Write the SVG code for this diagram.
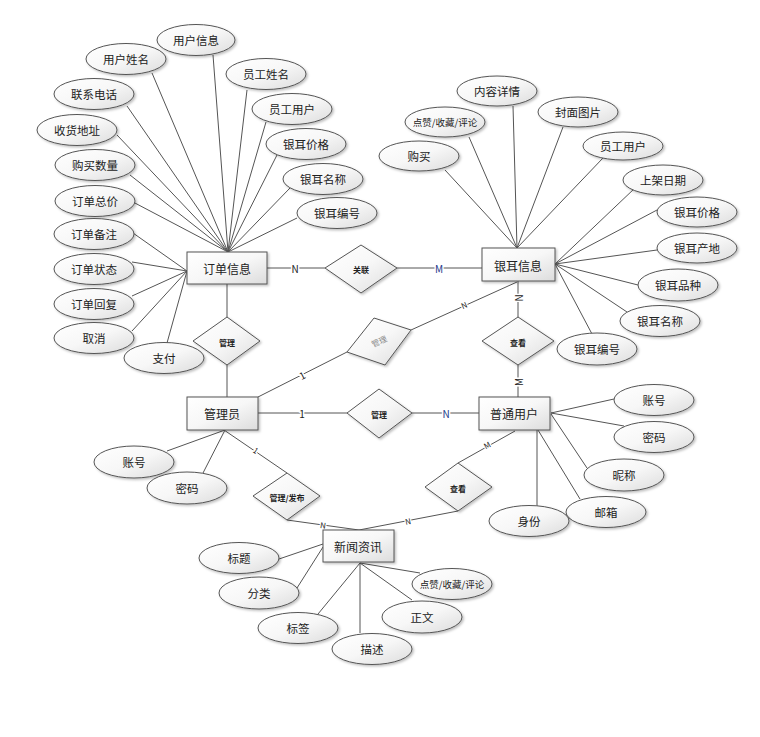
<svg xmlns="http://www.w3.org/2000/svg" width="760" height="737" viewBox="0 0 760 737">
<defs>
<linearGradient id="g" x1="0" y1="0" x2="1" y2="1"><stop offset="0" stop-color="#ffffff"/><stop offset="0.5" stop-color="#f7f7f7"/><stop offset="1" stop-color="#dcdcdc"/></linearGradient>
<filter id="sh" x="-20%" y="-20%" width="150%" height="160%"><feDropShadow dx="1.5" dy="1.5" stdDeviation="1.2" flood-color="#000" flood-opacity="0.25"/></filter>
<style>
text{font-family:"Noto Sans CJK SC","Noto Sans",sans-serif;text-anchor:middle;dominant-baseline:central;fill:#222}
.e ellipse{fill:url(#g);stroke:#555;stroke-width:1;filter:url(#sh)}
.e text{font-size:11.5px}
.r rect{fill:url(#g);stroke:#555;stroke-width:1;filter:url(#sh)}
.r text{font-size:12px}
.d polygon{fill:url(#g);stroke:#555;stroke-width:1;filter:url(#sh)}
.d text{font-size:8px;font-weight:bold}
#connectors line{stroke:#555;stroke-width:1}
.c{font-size:10px;stroke:#fff;stroke-width:3;paint-order:stroke}
.cs{font-size:8px;stroke:#fff;stroke-width:2.5;paint-order:stroke}
.b{fill:#1c3a8a}
.sm text{font-size:9.5px}
</style>
</defs>
<rect width="760" height="737" fill="#fff"/>

<g id="connectors">
<!-- 订单信息 attributes -->
<line x1="213" y1="55" x2="228" y2="252"/>
<line x1="152" y1="73" x2="228" y2="252"/>
<line x1="247" y1="90" x2="228" y2="252"/>
<line x1="127" y1="106" x2="228" y2="252"/>
<line x1="266" y1="122" x2="228" y2="252"/>
<line x1="117" y1="135" x2="228" y2="252"/>
<line x1="277" y1="155" x2="228" y2="252"/>
<line x1="130" y1="175" x2="228" y2="252"/>
<line x1="290" y1="188" x2="228" y2="252"/>
<line x1="133" y1="202" x2="228" y2="252"/>
<line x1="297" y1="218" x2="228" y2="252"/>
<line x1="133" y1="233" x2="187" y2="271"/>
<line x1="132" y1="262" x2="187" y2="271"/>
<line x1="132" y1="296" x2="187" y2="271"/>
<line x1="132" y1="331" x2="187" y2="271"/>
<line x1="167" y1="343" x2="187" y2="271"/>
<!-- 银耳信息 attributes -->
<line x1="513" y1="106" x2="517" y2="248"/>
<line x1="469" y1="137" x2="517" y2="248"/>
<line x1="445" y1="170" x2="517" y2="248"/>
<line x1="563" y1="127" x2="517" y2="248"/>
<line x1="603" y1="158" x2="517" y2="248"/>
<line x1="635" y1="188" x2="555" y2="264"/>
<line x1="657" y1="210" x2="555" y2="264"/>
<line x1="657" y1="250" x2="555" y2="264"/>
<line x1="638" y1="285" x2="555" y2="264"/>
<line x1="627" y1="312" x2="555" y2="264"/>
<line x1="592" y1="334" x2="555" y2="264"/>
<!-- 管理员 attributes -->
<line x1="167" y1="451" x2="225" y2="430"/>
<line x1="203" y1="473" x2="225" y2="430"/>
<!-- 普通用户 attributes -->
<line x1="614" y1="399" x2="551" y2="413"/>
<line x1="624" y1="426" x2="551" y2="413"/>
<line x1="587" y1="468" x2="551" y2="414"/>
<line x1="580" y1="499" x2="538" y2="430"/>
<line x1="537" y1="506" x2="537" y2="430"/>
<!-- 新闻资讯 attributes -->
<line x1="279" y1="559" x2="323" y2="544"/>
<line x1="297" y1="588" x2="323" y2="547"/>
<line x1="318" y1="614" x2="360" y2="563"/>
<line x1="360" y1="633" x2="360" y2="563"/>
<line x1="412" y1="600" x2="360" y2="563"/>
<line x1="420" y1="573" x2="360" y2="563"/>
<!-- relationships -->
<line x1="267" y1="268" x2="325" y2="268"/>
<line x1="397" y1="268" x2="482" y2="268"/>
<line x1="227" y1="284" x2="227" y2="317"/>
<line x1="227" y1="365" x2="227" y2="397"/>
<line x1="518" y1="281" x2="518" y2="317"/>
<line x1="518" y1="365" x2="518" y2="397"/>
<line x1="258" y1="397" x2="347" y2="352"/>
<line x1="411" y1="330" x2="517" y2="282"/>
<line x1="258" y1="413" x2="347" y2="413"/>
<line x1="412" y1="413" x2="479" y2="413"/>
<line x1="224" y1="430" x2="287" y2="473"/>
<line x1="287" y1="520" x2="359" y2="530"/>
<line x1="458" y1="511" x2="359" y2="530"/>
<line x1="458" y1="463" x2="515" y2="431"/>
<!-- cardinalities -->
<text class="c" x="295" y="268">N</text>
<text class="c b" x="439" y="268">M</text>
<text class="c" transform="translate(518,298) rotate(-90)">N</text>
<text class="c" transform="translate(518,382) rotate(-90)">M</text>
<text class="c" transform="translate(302,375) rotate(-27)">1</text>
<text class="cs" transform="translate(464,305) rotate(-24)">N</text>
<text class="c" x="302" y="413">1</text>
<text class="c b" x="446" y="413">N</text>
<text class="cs" transform="translate(256,450) rotate(34)">1</text>
<text class="cs" transform="translate(323,525) rotate(8)">N</text>
<text class="cs" transform="translate(408,521) rotate(-11)">N</text>
<text class="cs" transform="translate(487,445) rotate(-28)">M</text>
</g>

<!-- entities -->
<g id="dingdan" class="r"><rect x="187" y="252" width="80" height="32"/><text x="227" y="268">订单信息</text></g>
<g id="yiner" class="r"><rect x="482" y="248" width="73" height="33"/><text x="518" y="265">银耳信息</text></g>
<g id="guanliyuan" class="r"><rect x="187" y="397" width="71" height="33"/><text x="222" y="413">管理员</text></g>
<g id="putong" class="r"><rect x="479" y="397" width="71" height="33"/><text x="514" y="413">普通用户</text></g>
<g id="xinwen" class="r"><rect x="323" y="530" width="71" height="32"/><text x="358" y="546">新闻资讯</text></g>

<!-- relationships -->
<g id="rel-guanlian" class="d"><polygon points="325,268 361,245 397,268 361,293"/><text x="361" y="269">关联</text></g>
<g id="rel-guanli1" class="d"><polygon points="193,341 227,317 260,341 227,365"/><text x="227" y="342">管理</text></g>
<g id="rel-chakan1" class="d"><polygon points="482,341 518,317 554,341 518,365"/><text x="518" y="342">查看</text></g>
<g id="rel-guanli2" class="d"><polygon points="374,318 411,330 385,365 347,352"/><text transform="translate(379,341) rotate(-25)" style="fill:#888;font-weight:normal">管理</text></g>
<g id="rel-guanli3" class="d"><polygon points="347,413 379,389 412,413 379,438"/><text x="379" y="414">管理</text></g>
<g id="rel-fabu" class="d"><polygon points="253,496 287,473 320,496 287,520"/><text x="287" y="497">管理/发布</text></g>
<g id="rel-chakan2" class="d"><polygon points="425,487 458,463 492,487 458,511"/><text x="458" y="488">查看</text></g>

<!-- 订单信息 attributes -->
<g id="a-yhxx" class="e"><ellipse cx="196" cy="40" rx="39" ry="15.5"/><text x="196" y="40">用户信息</text></g>
<g id="a-yhxm" class="e"><ellipse cx="126" cy="59" rx="40" ry="15.5"/><text x="126" y="59">用户姓名</text></g>
<g id="a-ygxm" class="e"><ellipse cx="266" cy="74" rx="40" ry="15.5"/><text x="266" y="74">员工姓名</text></g>
<g id="a-lxdh" class="e"><ellipse cx="94" cy="94" rx="40" ry="15.5"/><text x="94" y="94">联系电话</text></g>
<g id="a-ygyh" class="e"><ellipse cx="292" cy="109" rx="40" ry="15.5"/><text x="292" y="109">员工用户</text></g>
<g id="a-shdz" class="e"><ellipse cx="77" cy="130" rx="40" ry="15.5"/><text x="77" y="130">收货地址</text></g>
<g id="a-yejg" class="e"><ellipse cx="306" cy="144" rx="40" ry="15.5"/><text x="306" y="144">银耳价格</text></g>
<g id="a-gmsl" class="e"><ellipse cx="95" cy="165" rx="40" ry="15.5"/><text x="95" y="165">购买数量</text></g>
<g id="a-yemc" class="e"><ellipse cx="323" cy="179" rx="40" ry="15.5"/><text x="323" y="179">银耳名称</text></g>
<g id="a-ddzj" class="e"><ellipse cx="95" cy="201" rx="40" ry="15.5"/><text x="95" y="201">订单总价</text></g>
<g id="a-yebh" class="e"><ellipse cx="337" cy="213" rx="40" ry="15.5"/><text x="337" y="213">银耳编号</text></g>
<g id="a-ddbz" class="e"><ellipse cx="94" cy="234" rx="40" ry="15.5"/><text x="94" y="234">订单备注</text></g>
<g id="a-ddzt" class="e"><ellipse cx="94" cy="269" rx="40" ry="15.5"/><text x="94" y="269">订单状态</text></g>
<g id="a-ddhf" class="e"><ellipse cx="94" cy="304" rx="40" ry="15.5"/><text x="94" y="304">订单回复</text></g>
<g id="a-qx" class="e"><ellipse cx="94" cy="338" rx="40" ry="15.5"/><text x="94" y="338">取消</text></g>
<g id="a-zf" class="e"><ellipse cx="164" cy="358" rx="40" ry="15.5"/><text x="164" y="358">支付</text></g>

<!-- 银耳信息 attributes -->
<g id="b-nrxq" class="e"><ellipse cx="497" cy="91" rx="40" ry="15"/><text x="497" y="91">内容详情</text></g>
<g id="b-dz" class="e sm"><ellipse cx="445" cy="122" rx="40" ry="15"/><text x="445" y="122">点赞/收藏/评论</text></g>
<g id="b-fmtp" class="e"><ellipse cx="578" cy="112" rx="40" ry="15"/><text x="578" y="112">封面图片</text></g>
<g id="b-gm" class="e"><ellipse cx="419" cy="156" rx="40" ry="15"/><text x="419" y="156">购买</text></g>
<g id="b-ygyh" class="e"><ellipse cx="623" cy="146" rx="40" ry="14"/><text x="623" y="146">员工用户</text></g>
<g id="b-sjrq" class="e"><ellipse cx="663" cy="180" rx="40" ry="15"/><text x="663" y="180">上架日期</text></g>
<g id="b-yejg" class="e"><ellipse cx="697" cy="212" rx="40" ry="15"/><text x="697" y="212">银耳价格</text></g>
<g id="b-yecd" class="e"><ellipse cx="697" cy="248" rx="40" ry="15"/><text x="697" y="248">银耳产地</text></g>
<g id="b-yepz" class="e"><ellipse cx="678" cy="285" rx="40" ry="16"/><text x="678" y="285">银耳品种</text></g>
<g id="b-yemc" class="e"><ellipse cx="660" cy="321" rx="40" ry="15.5"/><text x="660" y="321">银耳名称</text></g>
<g id="b-yebh" class="e"><ellipse cx="597" cy="349" rx="40" ry="16"/><text x="597" y="349">银耳编号</text></g>

<!-- 管理员 attributes -->
<g id="c-zh" class="e"><ellipse cx="134" cy="462" rx="40" ry="16"/><text x="134" y="462">账号</text></g>
<g id="c-mm" class="e"><ellipse cx="187" cy="488" rx="40" ry="16"/><text x="187" y="488">密码</text></g>

<!-- 普通用户 attributes -->
<g id="d-zh" class="e"><ellipse cx="654" cy="400" rx="40" ry="15.5"/><text x="654" y="400">账号</text></g>
<g id="d-mm" class="e"><ellipse cx="654" cy="437" rx="40" ry="15.5"/><text x="654" y="437">密码</text></g>
<g id="d-nc" class="e"><ellipse cx="624" cy="475" rx="40" ry="16"/><text x="624" y="475">昵称</text></g>
<g id="d-yx" class="e"><ellipse cx="606" cy="512" rx="40" ry="15.5"/><text x="606" y="512">邮箱</text></g>
<g id="d-sf" class="e"><ellipse cx="529" cy="521" rx="40" ry="15.5"/><text x="529" y="521">身份</text></g>

<!-- 新闻资讯 attributes -->
<g id="e-bt" class="e"><ellipse cx="239" cy="558" rx="40" ry="15.5"/><text x="239" y="558">标题</text></g>
<g id="e-fl" class="e"><ellipse cx="259" cy="593" rx="40" ry="16"/><text x="259" y="593">分类</text></g>
<g id="e-bq" class="e"><ellipse cx="298" cy="628" rx="40" ry="15.5"/><text x="298" y="628">标签</text></g>
<g id="e-ms" class="e"><ellipse cx="372" cy="649" rx="40" ry="15.5"/><text x="372" y="649">描述</text></g>
<g id="e-zw" class="e"><ellipse cx="422" cy="617" rx="40" ry="16"/><text x="422" y="617">正文</text></g>
<g id="e-dz" class="e sm"><ellipse cx="452" cy="584" rx="40" ry="15.5"/><text x="452" y="584">点赞/收藏/评论</text></g>
</svg>
